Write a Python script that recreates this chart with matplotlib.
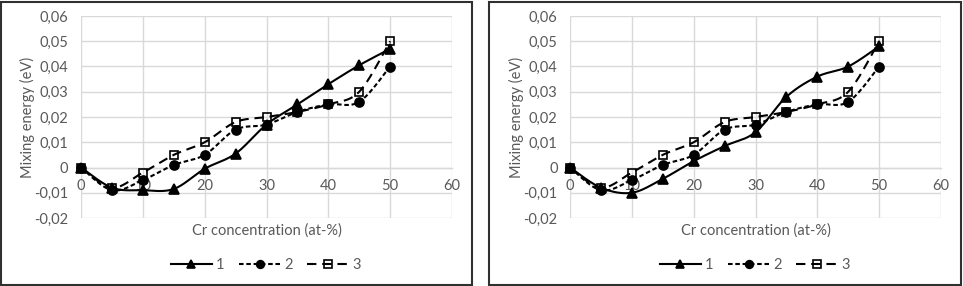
import numpy as np
import matplotlib
matplotlib.use("Agg")
import matplotlib.pyplot as plt
from matplotlib.lines import Line2D
from matplotlib.patches import Rectangle
from matplotlib.ticker import FuncFormatter, MultipleLocator

plt.rcParams['font.family'] = ['Lato', 'DejaVu Sans']

x = [0, 5, 10, 15, 20, 25, 30, 35, 40, 45, 50]
left_s1 = [0, -0.008, -0.009, -0.0085, -0.0005, 0.0055, 0.017, 0.025, 0.033, 0.0405, 0.047]
left_s2 = [0, -0.009, -0.005, 0.001, 0.005, 0.015, 0.017, 0.022, 0.025, 0.026, 0.040]
left_s3 = [0, -0.008, -0.002, 0.005, 0.010, 0.018, 0.020, 0.022, 0.025, 0.030, 0.050]
right_s1 = [0, -0.008, -0.010, -0.0045, 0.0025, 0.0085, 0.014, 0.028, 0.036, 0.040, 0.048]
right_s2 = [0, -0.009, -0.005, 0.001, 0.005, 0.015, 0.017, 0.022, 0.025, 0.026, 0.040]
right_s3 = [0, -0.008, -0.002, 0.005, 0.010, 0.018, 0.020, 0.022, 0.025, 0.030, 0.050]
series_labels = ['1', '2', '3']
x_label = 'Cr concentration (at-%)'
y_label = 'Mixing energy (eV)'

GRAY = '#595959'
GRID = '#d9d9d9'


def smooth(xs, ys, n=30):
    P = np.column_stack([xs, ys]).astype(float)
    P = np.vstack([P[0], P, P[-1]])
    out = []
    for i in range(1, len(P) - 2):
        p0, p1, p2, p3 = P[i - 1], P[i], P[i + 1], P[i + 2]
        b1 = p1 + (p2 - p0) / 6.0
        b2 = p2 - (p3 - p1) / 6.0
        t = np.linspace(0, 1, n)[:, None]
        seg = ((1 - t) ** 3) * p1 + 3 * ((1 - t) ** 2) * t * b1 + 3 * (1 - t) * t ** 2 * b2 + t ** 3 * p2
        out.append(seg if i == 1 else seg[1:])
    s = np.vstack(out)
    return s[:, 0], s[:, 1]


styles = [
    dict(ls='-', marker='^', ms=7, mfc='black', lw=1.5),
    dict(ls=(0, (2.2, 1.3)), marker='o', ms=6.5, mfc='black', lw=1.5),
    dict(ls=(0, (4.5, 2.8)), marker='s', ms=6, mfc='none', lw=1.5),
]


def fmt(v, pos):
    if abs(v) < 1e-9:
        return '0'
    return f'{v:.2f}'.replace('.', ',')


fig = plt.figure(figsize=(9.63, 2.86), dpi=100)
W, H = 963, 286

panels = [
    (81, (left_s1, left_s2, left_s3), 266),
    (570, (right_s1, right_s2, right_s3), 755),
]

for x0, data, legx in panels:
    ax = fig.add_axes([x0 / W, 1 - 218 / H, 371 / W, 202 / H])
    ax.set_xlim(0, 60)
    ax.set_ylim(-0.02, 0.06)
    ax.xaxis.set_major_locator(MultipleLocator(10))
    ax.yaxis.set_major_locator(MultipleLocator(0.01))
    ax.yaxis.set_major_formatter(FuncFormatter(fmt))
    ax.grid(True, color=GRID, lw=1)
    ax.set_axisbelow(True)
    for sp in ['top', 'right', 'left']:
        ax.spines[sp].set_visible(False)
    ax.spines['bottom'].set_position(('data', 0))
    ax.spines['bottom'].set_color(GRID)
    ax.spines['bottom'].set_linewidth(1)
    ax.tick_params(length=0, labelsize=10.5, colors=GRAY)
    ax.tick_params(axis='y', pad=9)
    ax.tick_params(axis='x', pad=8)
    ax.set_ylabel(y_label, fontsize=10.5, color=GRAY)
    ax.yaxis.set_label_coords(-0.125, 0.5)
    ax.set_xlabel(x_label, fontsize=10.5, color=GRAY)
    ax.xaxis.set_label_coords(0.5, -0.025)
    for ys, st in zip(data, styles):
        sx, sy = smooth(x, ys)
        ax.plot(sx, sy, color='black', ls=st['ls'], lw=st['lw'], zorder=3, clip_on=False)
        ax.plot(x, ys, ls='none', marker=st['marker'], ms=st['ms'], mfc=st['mfc'],
                mec='black', mew=1.2, zorder=4, clip_on=False)
    handles = [Line2D([0], [0], color='black', ls=st['ls'], lw=st['lw'], marker=st['marker'],
                      ms=st['ms'] * 0.85, mfc=st['mfc'], mec='black', mew=1.2) for st in styles]
    fig.legend(handles, series_labels, loc='center', bbox_to_anchor=(legx / W, 1 - 265 / H),
               ncol=3, frameon=False, fontsize=10.5, labelcolor=GRAY, handlelength=2.8,
               handletextpad=0.3, columnspacing=1.0)

for l, r in [(1, 472), (489, 961)]:
    fig.patches.append(Rectangle((l / W, 1 / H), (r - l) / W, 283 / H, transform=fig.transFigure,
                                 fill=False, ec='#303030', lw=1.5))

fig.savefig('out.png', dpi=100)
